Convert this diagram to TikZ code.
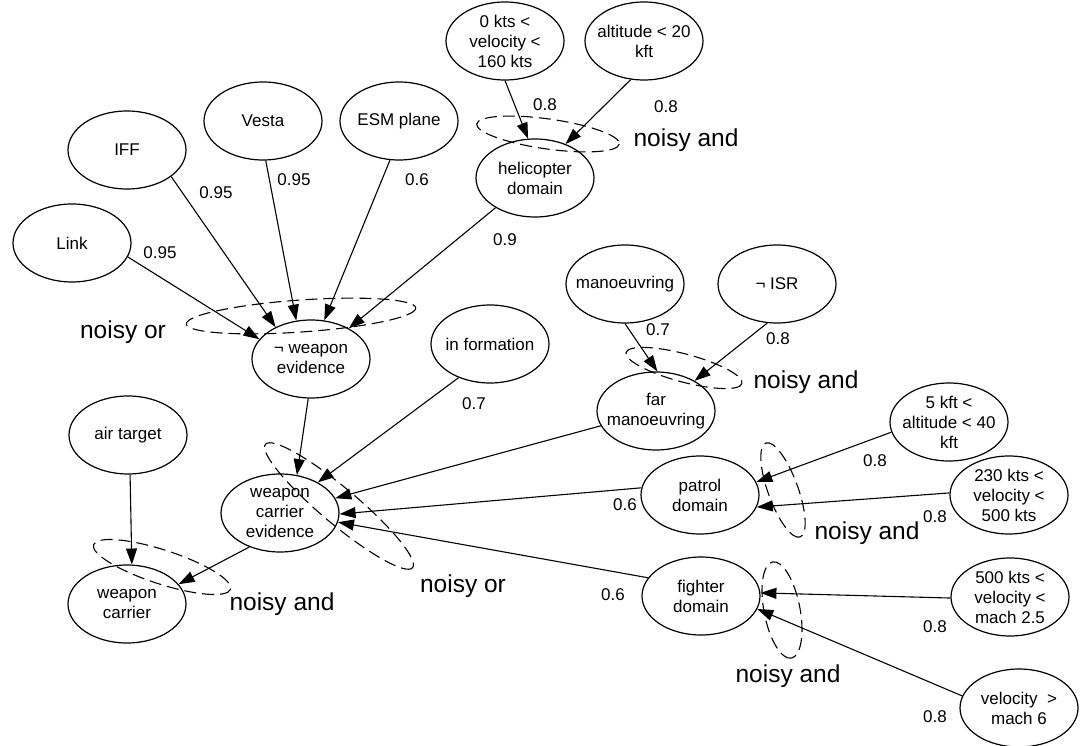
\documentclass[tikz,border=0pt]{standalone}
\usepackage{fontspec}
\setmainfont{Liberation Sans}
\usetikzlibrary{shapes.geometric,arrows.meta}
\begin{document}
\begin{tikzpicture}[x=1pt,y=-1pt,
  var/.style={draw, ellipse, line width=1.2pt, minimum width=118pt, minimum height=78pt,
    inner xsep=-10pt, inner ysep=-8pt, align=center, font=\fontsize{17}{20}\selectfont},
  prob/.style={font=\fontsize{17}{20}\selectfont, inner sep=0pt},
  gate/.style={font=\fontsize{24.5}{28}\selectfont, inner sep=0pt},
  cause/.style={line width=1.1pt, -{Triangle[length=16pt,width=11pt]}},
  gatering/.style={line width=1.1pt, dash pattern=on 12pt off 6pt}
]
\useasboundingbox (0,0) rectangle (1090,746);

% variables
\node[var] (link)      at (72,243)  {Link};
\node[var] (iff)       at (127,150) {IFF};
\node[var] (vesta)     at (263,121) {Vesta};
\node[var] (esm)       at (399,121) {ESM plane};
\node[var] (vellow)    at (505,41)  {0 kts <\\velocity <\\160 kts};
\node[var] (altlow)    at (644,41)  {altitude < 20\\kft};
\node[var] (heli)      at (535,178) {helicopter\\domain};
\node[var] (noweapon)  at (311,359) {¬ weapon\\evidence};
\node[var] (inform)    at (490,344) {in formation};
\node[var] (manoe)     at (625,284) {manoeuvring};
\node[var] (noisr)     at (777,284) {¬ ISR};
\node[var] (farman)    at (656,411) {far\\manoeuvring};
\node[var] (altmid)    at (949,422) {5 kft <\\altitude < 40\\kft};
\node[var] (patrol)    at (700,495) {patrol\\domain};
\node[var] (velmid)    at (1009,495) {230 kts <\\velocity <\\500 kts};
\node[var] (fighter)   at (701,596) {fighter\\domain};
\node[var] (velhigh)   at (1010,597) {500 kts <\\velocity <\\mach 2.5};
\node[var] (velmax)    at (1019,708) {velocity~ >\\mach 6};
\node[var] (airtarget) at (128,435) {air target};
\node[var] (wce)       at (280,513) {weapon\\carrier\\evidence};
\node[var] (wc)        at (127,604) {weapon\\carrier};

% influences
\draw[cause] (link.-14)     -- (noweapon.159);
\draw[cause] (iff.-31)      -- (noweapon.138);
\draw[cause] (vesta.-86)    -- (noweapon.111);
\draw[cause] (esm.257)      -- (noweapon.71);
\draw[cause] (heli.217)     -- (noweapon.39);
\draw[cause] (vellow.-90)   -- (heli.100);
\draw[cause] (altlow.251)   -- (heli.48);
\draw[cause] (noweapon.266) -- (wce.66);
\draw[cause] (inform.227)   -- (wce.39);
\draw[cause] (farman.195)   -- (wce.15);
\draw[cause] (patrol.173)   -- (wce.-1);
\draw[cause] (fighter.161)  -- (wce.-9);
\draw[cause] (manoe.-90)    -- (farman.88);
\draw[cause] (noisr.256)    -- (farman.38);
\draw[cause] (altmid.190)   -- (patrol.13);
\draw[cause] (velmid.178)   -- (patrol.-12);
\draw[cause] (velhigh.181)  -- (fighter.3);
\draw[cause] (velmax.168)   -- (fighter.-13);
\draw[cause] (airtarget.-87) -- (wc.83);
\draw[cause] (wce.228)      -- (wc.21);

% link strengths
\node[prob] (p1)  at (160,253) {0.95};
\node[prob] (p2)  at (216,193) {0.95};
\node[prob] (p3)  at (294,180) {0.95};
\node[prob] (p4)  at (417,180) {0.6};
\node[prob] (p5)  at (505,240) {0.9};
\node[prob] (p6)  at (545,105) {0.8};
\node[prob] (p7)  at (666,107) {0.8};
\node[prob] (p8)  at (474,404) {0.7};
\node[prob] (p9)  at (658,330) {0.7};
\node[prob] (p10) at (778,339) {0.8};
\node[prob] (p11) at (875,461) {0.8};
\node[prob] (p12) at (625,505) {0.6};
\node[prob] (p13) at (935,517) {0.8};
\node[prob] (p14) at (613,595) {0.6};
\node[prob] (p15) at (935,627) {0.8};
\node[prob] (p16) at (935,717) {0.8};

% combination rings
\draw[gatering, rotate around={-8:(548,134)}]  (548,134) ellipse [x radius=72, y radius=15];
\draw[gatering, rotate around={4:(301,316)}]   (301,316) ellipse [x radius=115, y radius=16];
\draw[gatering, rotate around={-15:(684,368)}] (684,368) ellipse [x radius=60, y radius=14];
\draw[gatering, rotate around={-70:(783,490)}] (783,490) ellipse [x radius=50, y radius=15];
\draw[gatering, rotate around={-79:(782,610)}] (782,610) ellipse [x radius=49, y radius=18];
\draw[gatering, rotate around={-40:(339,506)}] (339,506) ellipse [x radius=96, y radius=18];
\draw[gatering, rotate around={-18:(162,567)}] (162,567) ellipse [x radius=72, y radius=17];

% combination rules
\node[gate] (g1) at (686,140) {noisy and};
\node[gate] (g2) at (123,332) {noisy or};
\node[gate] (g3) at (806,382) {noisy and};
\node[gate] (g4) at (867,533) {noisy and};
\node[gate] (g5) at (463,586) {noisy or};
\node[gate] (g6) at (282,604) {noisy and};
\node[gate] (g7) at (788,676) {noisy and};
\end{tikzpicture}
\end{document}
